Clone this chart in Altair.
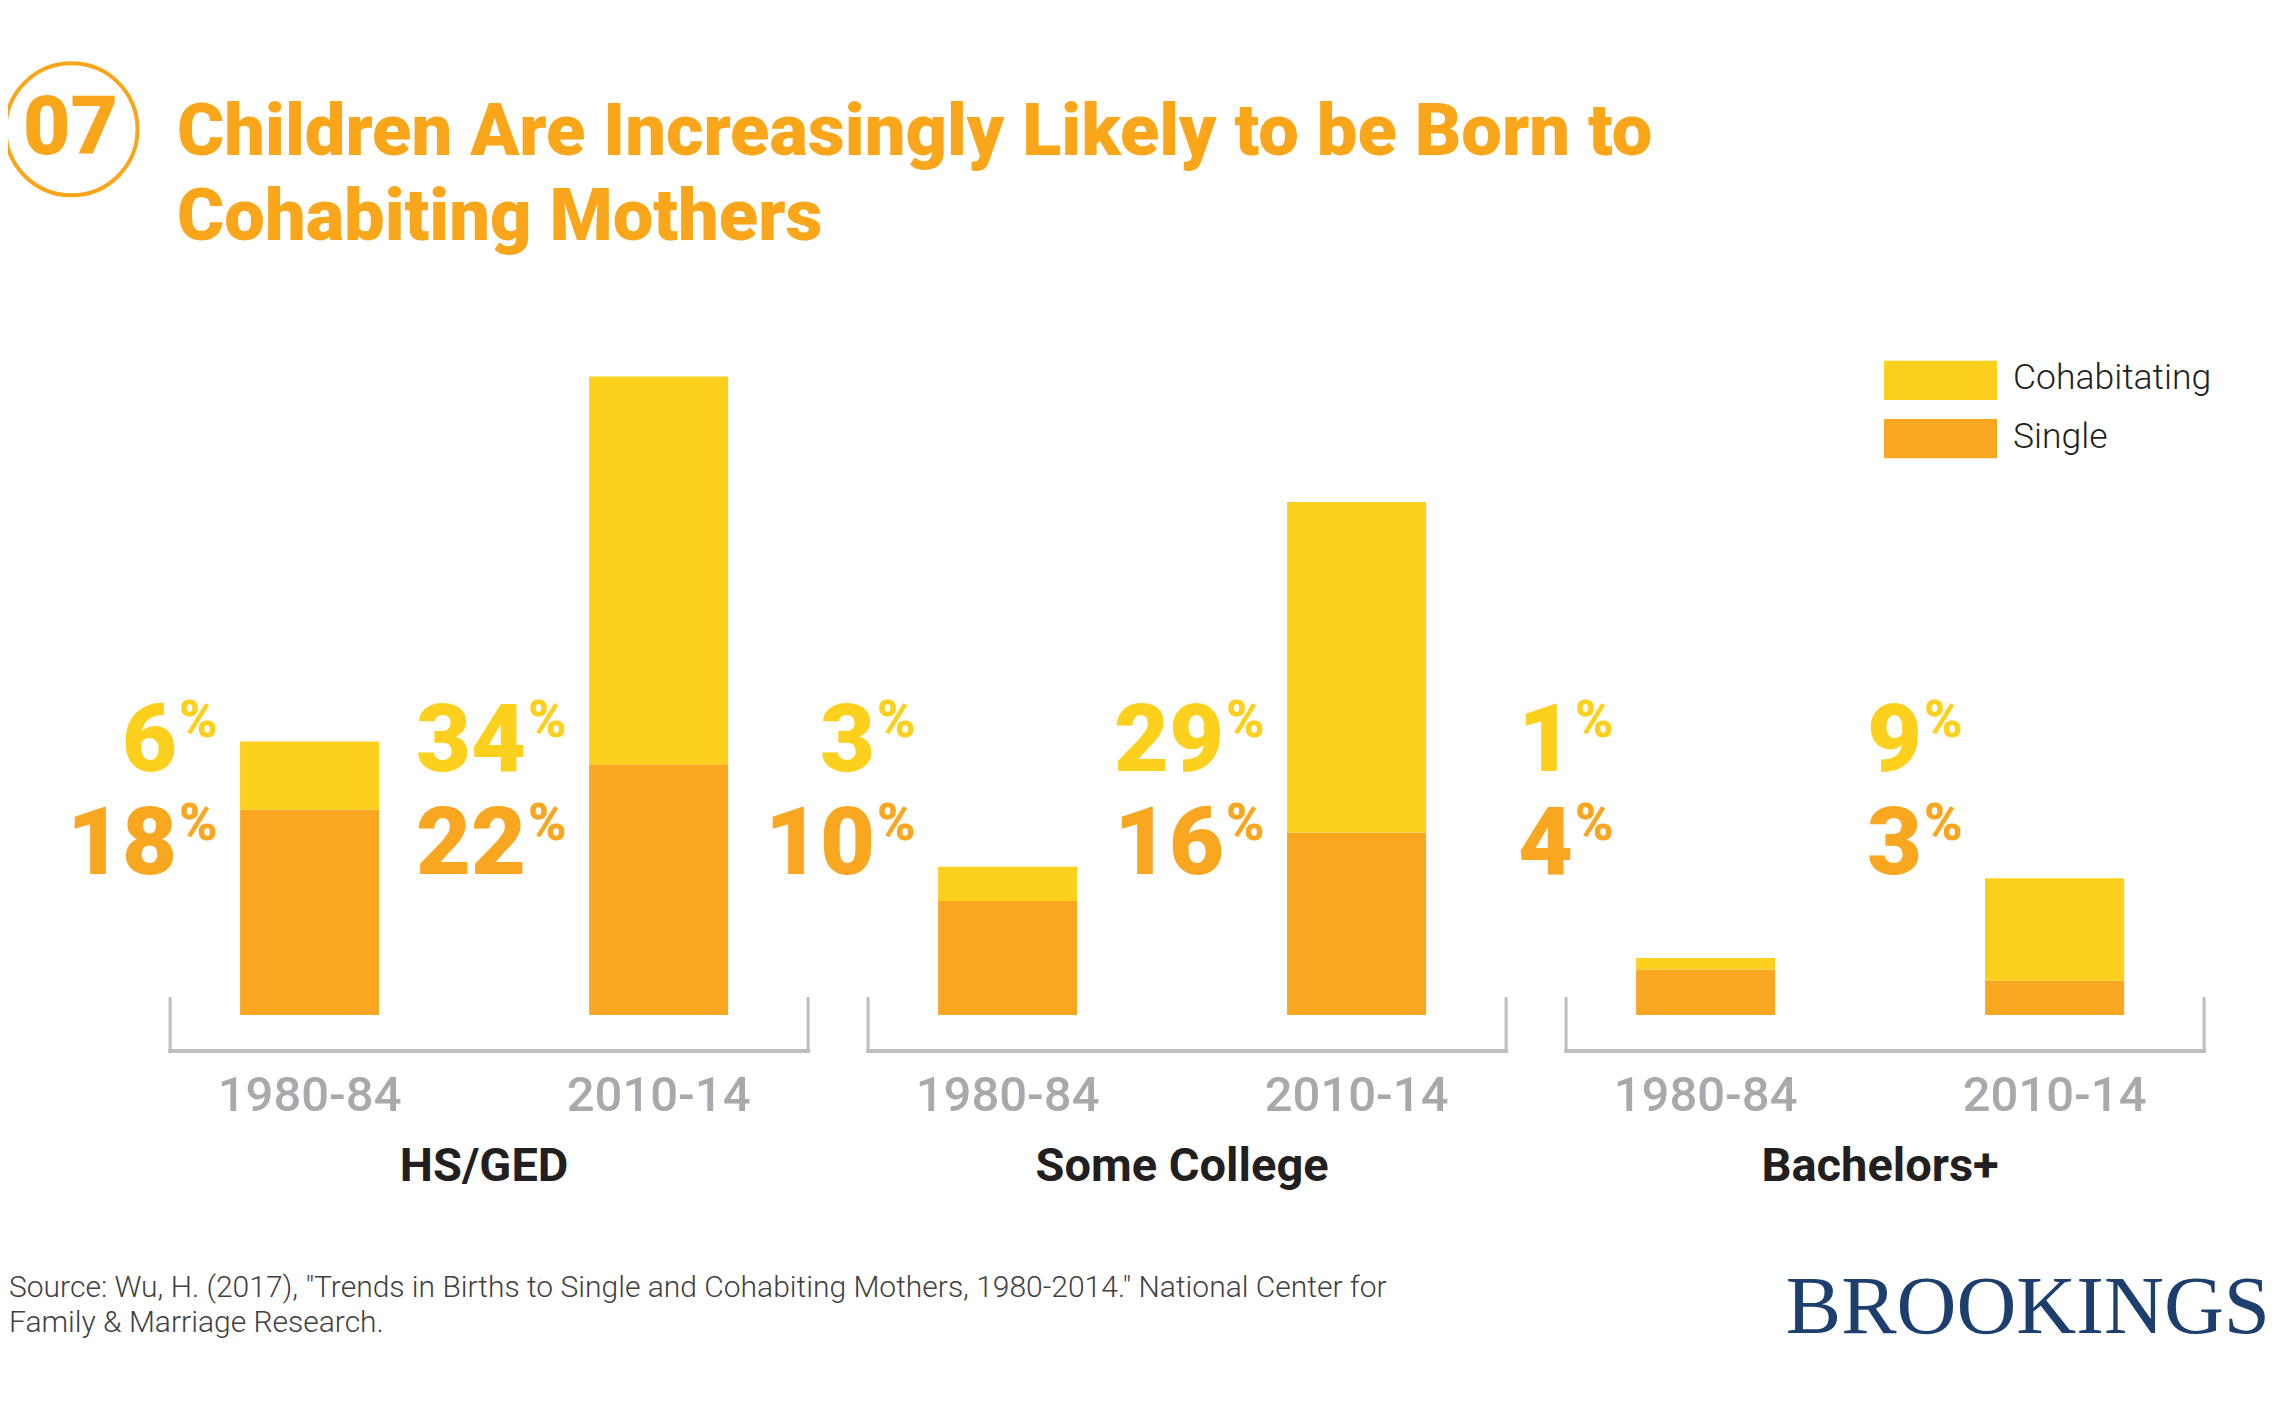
import altair as alt
import pandas as pd

# ---- data -------------------------------------------------------------
groups = ["HS/GED", "Some College", "Bachelors+"]
periods = ["1980-84", "2010-14"]
single = [18, 22, 10, 16, 4, 3]
cohabiting = [6, 34, 3, 29, 1, 9]
series = ["Cohabitating", "Single"]
series_colors = ["#FDD01E", "#F9A621"]

badge = "07"
title_text = "Children Are Increasingly Likely to be Born to\nCohabiting Mothers"
source_text = ('Source: Wu, H. (2017), "Trends in Births to Single and Cohabiting Mothers, '
               '1980-2014." National Center for\nFamily & Marriage Research.')
brand = "BROOKINGS"

# ---- tables built from the lists --------------------------------------
keys = [f"{g}|{p}" for g in groups for p in periods]
rows = []
for i, k in enumerate(keys):
    g, p = k.split("|")
    rows.append(dict(key=k, group=g, period=p, series="Single", value=single[i], order=0))
    rows.append(dict(key=k, group=g, period=p, series="Cohabitating", value=cohabiting[i], order=1))
bars_df = pd.DataFrame(rows)
brackets_df = pd.DataFrame({"group": groups, "first": keys[0::2], "last": keys[1::2]})
legend_df = pd.DataFrame({"series": series})
one = pd.DataFrame({"badge": [badge], "title": [title_text], "source": [source_text], "brand": [brand]})

ORANGE = "#F9A61B"
GRAY = "#BCBEC0"
FONT = "Roboto"

x_scale = alt.Scale(domain=keys, range=[127.1, 2221.1], paddingInner=0.6017, paddingOuter=0.30085)
y_scale = alt.Scale(domain=[0, 60], range=[1007, 323], nice=False, zero=True)
color_scale = alt.Scale(domain=series, range=series_colors)
leg_scale = alt.Scale(type="band", domain=series, range=[352.7, 450.3], paddingInner=0.326, paddingOuter=0)

# ---- bars ------------------------------------------------------------
bars = alt.Chart(bars_df).mark_bar().encode(
    x=alt.X("key:N", scale=x_scale, axis=None),
    y=alt.Y("value:Q", scale=y_scale, axis=None, stack="zero"),
    color=alt.Color("series:N", scale=color_scale, legend=None),
    order=alt.Order("order:Q", sort="ascending"),
)

# ---- value labels ----------------------------------------------------
def value_labels(name, y_px, color):
    base = alt.Chart(bars_df).transform_filter(alt.datum.series == name)
    num = base.mark_text(align="right", baseline="alphabetic", font=FONT, fontWeight=900,
                         fontSize=95, color=color, dx=-63).encode(
        x=alt.X("key:N", scale=x_scale, axis=None, bandPosition=0),
        y=alt.value(y_px),
        text=alt.Text("value:Q", format="d"),
    )
    pct = base.mark_text(align="left", baseline="alphabetic", font=FONT, fontWeight=900,
                         fontSize=52, color=color, dx=-61, dy=-34).encode(
        x=alt.X("key:N", scale=x_scale, axis=None, bandPosition=0),
        y=alt.value(y_px),
        text=alt.value("%"),
    )
    return [num, pct]

labels = value_labels("Cohabitating", 763, series_colors[0]) + value_labels("Single", 866, series_colors[1])

# ---- brackets & axis text ------------------------------------------------
hline = alt.Chart(brackets_df).mark_rule(color=GRAY, strokeWidth=4, xOffset=-70, x2Offset=80,
                                         strokeCap="square").encode(
    x=alt.X("first:N", scale=x_scale, axis=None, bandPosition=0),
    x2=alt.X2("last:N", bandPosition=1),
    y=alt.value(1043),
)
ltick = alt.Chart(brackets_df).mark_rule(color=GRAY, strokeWidth=3, xOffset=-70).encode(
    x=alt.X("first:N", scale=x_scale, axis=None, bandPosition=0),
    y=alt.value(989), y2=alt.value(1043),
)
rtick = alt.Chart(brackets_df).mark_rule(color=GRAY, strokeWidth=3, xOffset=80).encode(
    x=alt.X("last:N", scale=x_scale, axis=None, bandPosition=1),
    y=alt.value(989), y2=alt.value(1043),
)
years = alt.Chart(bars_df).transform_filter(alt.datum.series == "Single").mark_text(
    align="center", baseline="alphabetic", font=FONT, fontWeight=500, fontSize=49, color="#A7A9AC").encode(
    x=alt.X("key:N", scale=x_scale, axis=None, bandPosition=0.5),
    y=alt.value(1103),
    text="period:N",
)
group_text = alt.Chart(brackets_df).mark_text(
    align="center", baseline="alphabetic", font=FONT, fontWeight="bold", fontSize=47,
    color="#231F20", dx=174.5).encode(
    x=alt.X("first:N", scale=x_scale, axis=None, bandPosition=0.5),
    y=alt.value(1173),
    text="group:N",
)

# ---- legend ------------------------------------------------------------
leg_rect = alt.Chart(legend_df).mark_rect().encode(
    x=alt.value(1876), x2=alt.value(1989),
    y=alt.Y("series:N", scale=leg_scale, axis=None),
    color=alt.Color("series:N", scale=color_scale, legend=None),
)
leg_text = alt.Chart(legend_df).mark_text(
    align="left", baseline="middle", font=FONT, fontWeight=300, fontSize=35.5, color="#231F20", dy=-2).encode(
    x=alt.value(2005),
    y=alt.Y("series:N", scale=leg_scale, axis=None, bandPosition=0.5),
    text="series:N",
)

# ---- title, badge, source, brand --------------------------------------------
circle = alt.Chart(one).mark_point(shape="circle", size=17424, filled=False, strokeWidth=4,
                                   color=ORANGE, opacity=1).encode(
    x=alt.value(63.5), y=alt.value(121.3))
badge_text = alt.Chart(one).mark_text(align="center", baseline="alphabetic", font=FONT,
                                      fontWeight=900, fontSize=82, color=ORANGE).encode(
    x=alt.value(62.5), y=alt.value(146), text="badge:N")
title = alt.Chart(one).mark_text(align="left", baseline="alphabetic", font=FONT, fontWeight=900,
                                 fontSize=72.2, color=ORANGE, lineBreak="\n", lineHeight=85).encode(
    x=alt.value(169), y=alt.value(147), text="title:N")
source = alt.Chart(one).mark_text(align="left", baseline="alphabetic", font=FONT, fontWeight=300,
                                  fontSize=30, color="#414042", lineBreak="\n", lineHeight=34.5).encode(
    x=alt.value(1), y=alt.value(1289), text="source:N")
brand_text = alt.Chart(one).mark_text(align="right", baseline="alphabetic", font="Liberation Serif",
                                      fontSize=83, color="#1C3F6E").encode(
    x=alt.value(2262), y=alt.value(1325), text="brand:N")

chart = alt.layer(
    bars, *labels, hline, ltick, rtick, years, group_text,
    leg_rect, leg_text, circle, badge_text, title, source, brand_text,
).resolve_scale(y="independent").properties(
    width=2264, height=1386,
    autosize=alt.AutoSizeParams(type="none"),
    padding=0,
    background="white",
).configure_view(stroke=None)

chart.save("out.html", embed_options={"renderer": "svg", "actions": False})
